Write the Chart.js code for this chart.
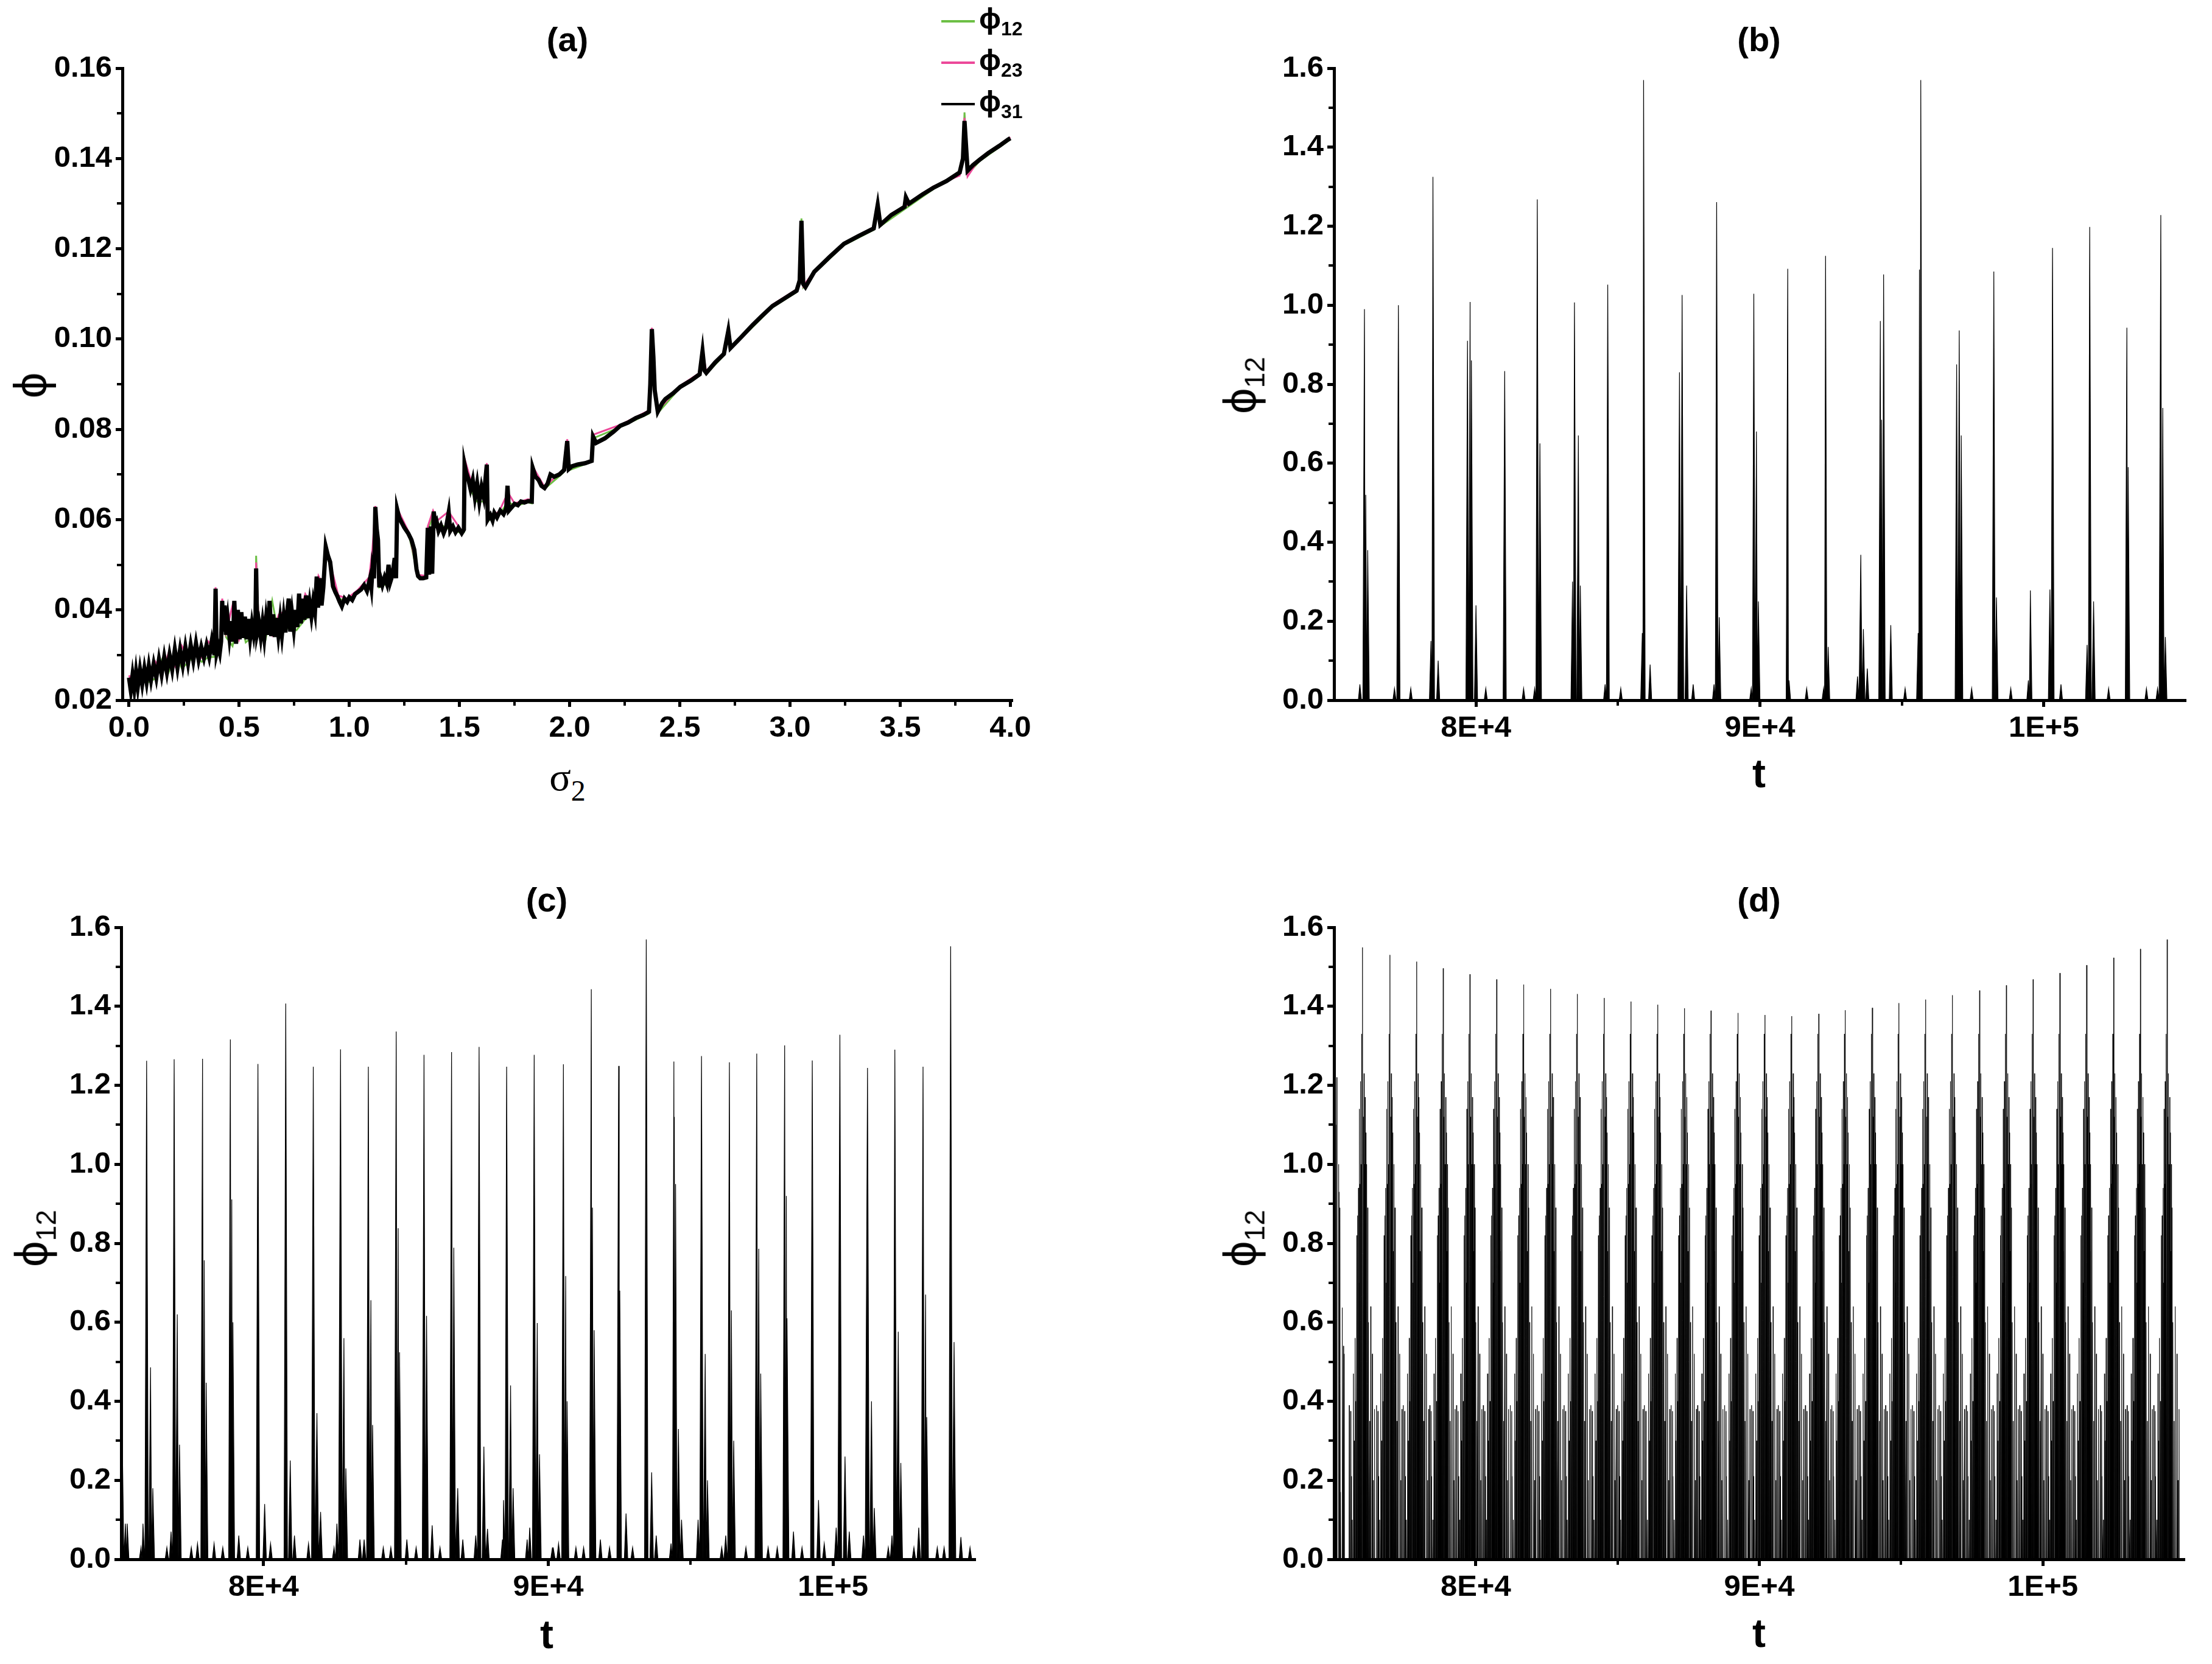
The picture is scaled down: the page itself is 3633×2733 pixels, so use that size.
<!DOCTYPE html>
<html>
<head>
<meta charset="utf-8">
<script src="https://cdn.jsdelivr.net/npm/chart.js@4.4.1/dist/chart.umd.min.js"></script>
<style>
  html, body { margin: 0; padding: 0; background: #fff; }
  body { width: 3633px; height: 2733px; position: relative; overflow: hidden; font-family: "Liberation Sans", Arial, sans-serif; color: #000; }
  canvas { position: absolute; }
  .lbl { position: absolute; transform: translate(-50%, -50%); white-space: nowrap; line-height: 1; }
  .title { font-weight: bold; font-size: 56px; }
  .tlab { font-weight: bold; font-size: 66px; }
  .sig { font-family: "Liberation Serif", "Times New Roman", serif; font-size: 66px; }
  .sig sub { font-size: 48px; vertical-align: -0.35em; }
  .phi { font-size: 76px; transform: translate(-50%, -50%) rotate(-90deg); }
  .phi sub { font-size: 46px; vertical-align: -0.3em; }
  .leg { position: absolute; left: 1546px; width: 1px; height: 1px; }
  .leg i { position: absolute; left: 0; top: -2px; width: 55px; height: 4px; }
  .leg span { position: absolute; left: 62px; top: 0; transform: translateY(-50%); font-size: 48px; font-weight: bold; white-space: nowrap; line-height: 1; }
  .leg sub { font-size: 32px; vertical-align: -0.35em; }
</style>
</head>
<body>

<canvas id="ca" width="1702" height="1168" style="left:1px;top:62px"></canvas>
<canvas id="cb" width="1639" height="1168" style="left:1991px;top:62px"></canvas>
<canvas id="cc" width="1641" height="1168" style="left:1px;top:1473px"></canvas>
<canvas id="cd" width="1637" height="1168" style="left:1991px;top:1473px"></canvas>

<div class="lbl title" style="left:932px;top:65px">(a)</div>
<div class="lbl title" style="left:2889px;top:65px">(b)</div>
<div class="lbl title" style="left:898px;top:1478px">(c)</div>
<div class="lbl title" style="left:2889px;top:1478px">(d)</div>

<div class="lbl sig" style="left:932px;top:1283px">σ<sub>2</sub></div>
<div class="lbl tlab" style="left:2889px;top:1270px">t</div>
<div class="lbl tlab" style="left:898px;top:2684px">t</div>
<div class="lbl tlab" style="left:2889px;top:2682px">t</div>

<div class="lbl phi" style="left:50px;top:633px">ϕ</div>
<div class="lbl phi" style="left:2041px;top:633px">ϕ<sub>12</sub></div>
<div class="lbl phi" style="left:56px;top:2034px">ϕ<sub>12</sub></div>
<div class="lbl phi" style="left:2041px;top:2034px">ϕ<sub>12</sub></div>

<div class="leg" style="top:35px"><i style="background:#6cbf45"></i><span>ϕ<sub>12</sub></span></div>
<div class="leg" style="top:103px"><i style="background:#ec4899"></i><span>ϕ<sub>23</sub></span></div>
<div class="leg" style="top:171px"><i style="background:#000"></i><span>ϕ<sub>31</sub></span></div>

<script>
// ---------- panel (a): phi vs sigma2 ----------
const aSigma = [
  0.000, 0.008, 0.016, 0.024, 0.032, 0.040, 0.050, 0.060, 0.070, 0.080,
  0.090, 0.100, 0.112, 0.124, 0.136, 0.148, 0.160, 0.172, 0.184, 0.196,
  0.208, 0.220, 0.232, 0.244, 0.256, 0.268, 0.280, 0.292, 0.304, 0.316,
  0.328, 0.340, 0.352, 0.364, 0.376, 0.388, 0.393, 0.398, 0.405, 0.412,
  0.418, 0.423, 0.428, 0.434, 0.440, 0.448, 0.456, 0.464, 0.472, 0.478,
  0.486, 0.494, 0.502, 0.510, 0.518, 0.526, 0.534, 0.542, 0.550, 0.558,
  0.566, 0.574, 0.577, 0.582, 0.590, 0.598, 0.606, 0.614, 0.622, 0.630,
  0.638, 0.646, 0.654, 0.662, 0.670, 0.678, 0.686, 0.694, 0.702, 0.710,
  0.718, 0.725, 0.732, 0.740, 0.748, 0.756, 0.764, 0.772, 0.780, 0.788,
  0.796, 0.804, 0.812, 0.820, 0.828, 0.836, 0.844, 0.852, 0.858, 0.866,
  0.874, 0.882, 0.893, 0.903, 0.913, 0.926, 0.936, 0.946, 0.956, 0.966,
  0.978, 0.990, 1.000, 1.013, 1.026, 1.040, 1.053, 1.067, 1.080, 1.094,
  1.100, 1.105, 1.112, 1.118, 1.124, 1.130, 1.136, 1.142, 1.150, 1.160,
  1.170, 1.178, 1.186, 1.196, 1.206, 1.212, 1.217, 1.226, 1.235, 1.250,
  1.268, 1.282, 1.295, 1.305, 1.312, 1.322, 1.335, 1.349, 1.356, 1.362,
  1.370, 1.376, 1.383, 1.390, 1.396, 1.405, 1.416, 1.428, 1.440, 1.451,
  1.458, 1.470, 1.482, 1.495, 1.510, 1.520, 1.523, 1.530, 1.540, 1.550,
  1.560, 1.570, 1.580, 1.590, 1.600, 1.610, 1.618, 1.624, 1.628, 1.640,
  1.650, 1.658, 1.670, 1.685, 1.700, 1.712, 1.718, 1.724, 1.738, 1.750,
  1.765, 1.779, 1.795, 1.812, 1.828, 1.832, 1.845, 1.859, 1.872, 1.886,
  1.900, 1.913, 1.930, 1.953, 1.975, 1.989, 1.996, 2.010, 2.036, 2.070,
  2.100, 2.106, 2.120, 2.160, 2.200, 2.230, 2.265, 2.300, 2.335, 2.360,
  2.366, 2.373, 2.380, 2.386, 2.400, 2.420, 2.434, 2.470, 2.502, 2.550,
  2.590, 2.603, 2.612, 2.620, 2.660, 2.700, 2.720, 2.730, 2.780, 2.830,
  2.870, 2.920, 2.975, 3.030, 3.044, 3.052, 3.060, 3.070, 3.110, 3.180,
  3.245, 3.310, 3.380, 3.398, 3.410, 3.460, 3.520, 3.526, 3.540, 3.600,
  3.650, 3.710, 3.770, 3.785, 3.792, 3.800, 3.806, 3.830, 3.860, 3.900,
  3.950, 3.990, 4.000
];
const aPhi31 = [
  0.0250, 0.0222, 0.0255, 0.0225, 0.0262, 0.0230, 0.0268, 0.0236, 0.0270, 0.0240,
  0.0276, 0.0245, 0.0280, 0.0250, 0.0290, 0.0257, 0.0296, 0.0262, 0.0300, 0.0268,
  0.0312, 0.0272, 0.0312, 0.0278, 0.0318, 0.0282, 0.0322, 0.0288, 0.0326, 0.0290,
  0.0318, 0.0294, 0.0322, 0.0296, 0.0332, 0.0300, 0.0447, 0.0305, 0.0320, 0.0305,
  0.0330, 0.0420, 0.0352, 0.0410, 0.0345, 0.0380, 0.0340, 0.0375, 0.0330, 0.0420,
  0.0325, 0.0400, 0.0335, 0.0395, 0.0338, 0.0385, 0.0335, 0.0380, 0.0338, 0.0370,
  0.0345, 0.0375, 0.0492, 0.0350, 0.0370, 0.0340, 0.0372, 0.0338, 0.0380, 0.0345,
  0.0420, 0.0342, 0.0390, 0.0340, 0.0382, 0.0345, 0.0380, 0.0345, 0.0385, 0.0350,
  0.0395, 0.0425, 0.0352, 0.0392, 0.0358, 0.0400, 0.0362, 0.0436, 0.0370, 0.0425,
  0.0378, 0.0432, 0.0382, 0.0415, 0.0386, 0.0418, 0.0395, 0.0474, 0.0405, 0.0470,
  0.0410, 0.0450, 0.0540, 0.0520, 0.0506, 0.0452, 0.0440, 0.0430, 0.0418, 0.0408,
  0.0425, 0.0418, 0.0428, 0.0422, 0.0435, 0.0440, 0.0445, 0.0455, 0.0442, 0.0470,
  0.0450, 0.0490, 0.0470, 0.0628, 0.0580, 0.0555, 0.0450, 0.0470, 0.0455, 0.0472,
  0.0458, 0.0500, 0.0462, 0.0478, 0.0515, 0.0470, 0.0623, 0.0605, 0.0596, 0.0582,
  0.0569, 0.0555, 0.0533, 0.0490, 0.0475, 0.0470, 0.0470, 0.0472, 0.0582, 0.0478,
  0.0585, 0.0480, 0.0618, 0.0590, 0.0596, 0.0575, 0.0587, 0.0570, 0.0585, 0.0616,
  0.0575, 0.0585, 0.0572, 0.0582, 0.0570, 0.0578, 0.0722, 0.0705, 0.0690, 0.0668,
  0.0688, 0.0650, 0.0680, 0.0640, 0.0672, 0.0650, 0.0690, 0.0722, 0.0600, 0.0610,
  0.0598, 0.0615, 0.0605, 0.0620, 0.0612, 0.0625, 0.0675, 0.0620, 0.0628, 0.0635,
  0.0632, 0.0640, 0.0638, 0.0641, 0.0640, 0.0715, 0.0695, 0.0688, 0.0675, 0.0670,
  0.0680, 0.0700, 0.0695, 0.0700, 0.0710, 0.0774, 0.0712, 0.0718, 0.0722, 0.0725,
  0.0730, 0.0784, 0.0770, 0.0780, 0.0795, 0.0808, 0.0815, 0.0825, 0.0832, 0.0839,
  0.0900, 0.1022, 0.0960, 0.0887, 0.0839, 0.0858, 0.0867, 0.0880, 0.0894, 0.0908,
  0.0922, 0.0973, 0.0930, 0.0925, 0.0948, 0.0967, 0.1018, 0.0980, 0.1005, 0.1031,
  0.1050, 0.1073, 0.1090, 0.1107, 0.1130, 0.1262, 0.1122, 0.1115, 0.1149, 0.1182,
  0.1211, 0.1228, 0.1245, 0.1297, 0.1253, 0.1275, 0.1293, 0.1314, 0.1300, 0.1320,
  0.1335, 0.1350, 0.1369, 0.1400, 0.1483, 0.1420, 0.1373, 0.1385, 0.1397, 0.1412,
  0.1428, 0.1442, 0.1445
];
const aSigmaGP = [
  0, 0.02, 0.05, 0.08, 0.12, 0.15, 0.18, 0.21, 0.24, 0.27,
  0.30, 0.33, 0.36, 0.388, 0.393, 0.40, 0.42, 0.423, 0.44, 0.47,
  0.50, 0.53, 0.56, 0.574, 0.577, 0.59, 0.62, 0.65, 0.68, 0.72,
  0.76, 0.80, 0.84, 0.86, 0.882, 0.893, 0.92, 0.95, 0.99, 1.04,
  1.09, 1.105, 1.118, 1.13, 1.136, 1.17, 1.21, 1.217, 1.27, 1.30,
  1.31, 1.35, 1.356, 1.38, 1.40, 1.45, 1.51, 1.520, 1.523, 1.55,
  1.58, 1.61, 1.624, 1.628, 1.68, 1.72, 1.75, 1.81, 1.828, 1.832,
  1.886, 1.95, 1.975, 1.989, 2.0, 2.10, 2.106, 2.23, 2.36, 2.373,
  2.386, 2.40, 2.50, 2.590, 2.603, 2.62, 2.700, 2.72, 2.73, 2.92,
  3.03, 3.044, 3.052, 3.06, 3.11, 3.245, 3.38, 3.398, 3.41, 3.65,
  3.77, 3.785, 3.792, 3.806, 3.86, 4.0
];
const aPhi12 = [
  0.0228, 0.0222, 0.0262, 0.0238, 0.0248, 0.0290, 0.0262, 0.0302, 0.0270, 0.0285,
  0.0300, 0.0285, 0.0295, 0.0296, 0.0440, 0.0305, 0.0330, 0.0415, 0.0340, 0.0320,
  0.0390, 0.0328, 0.0340, 0.0345, 0.0520, 0.0345, 0.0335, 0.0420, 0.0340, 0.0360,
  0.0355, 0.0380, 0.0390, 0.0440, 0.0445, 0.0535, 0.0482, 0.0425, 0.0420, 0.0440,
  0.0455, 0.0470, 0.0620, 0.0550, 0.0450, 0.0458, 0.0480, 0.0620, 0.0568, 0.0500,
  0.0472, 0.0470, 0.0575, 0.0610, 0.0592, 0.0580, 0.0570, 0.0572, 0.0715, 0.0665,
  0.0640, 0.0640, 0.0700, 0.0597, 0.0610, 0.0640, 0.0630, 0.0638, 0.0636, 0.0712,
  0.0668, 0.0695, 0.0706, 0.0770, 0.0710, 0.0728, 0.0780, 0.0805, 0.0835, 0.1010,
  0.0885, 0.0836, 0.0892, 0.0919, 0.0965, 0.0922, 0.0964, 0.1010, 0.0978, 0.1070,
  0.1104, 0.1126, 0.1267, 0.1115, 0.1146, 0.1208, 0.1242, 0.1290, 0.1250, 0.1332,
  0.1366, 0.1396, 0.1502, 0.1365, 0.1394, 0.1442
];
const aPhi23 = [
  0.0255, 0.0235, 0.0270, 0.0245, 0.0285, 0.0260, 0.0305, 0.0275, 0.0320, 0.0290,
  0.0320, 0.0295, 0.0330, 0.0312, 0.0450, 0.0310, 0.0335, 0.0425, 0.0350, 0.0410,
  0.0335, 0.0380, 0.0350, 0.0375, 0.0505, 0.0355, 0.0390, 0.0345, 0.0390, 0.0400,
  0.0365, 0.0435, 0.0400, 0.0475, 0.0455, 0.0545, 0.0490, 0.0432, 0.0425, 0.0445,
  0.0472, 0.0535, 0.0630, 0.0560, 0.0455, 0.0465, 0.0510, 0.0625, 0.0572, 0.0505,
  0.0478, 0.0475, 0.0585, 0.0620, 0.0598, 0.0618, 0.0575, 0.0580, 0.0735, 0.0690,
  0.0675, 0.0660, 0.0725, 0.0602, 0.0618, 0.0660, 0.0636, 0.0645, 0.0644, 0.0718,
  0.0672, 0.0702, 0.0712, 0.0778, 0.0715, 0.0732, 0.0788, 0.0810, 0.0842, 0.1025,
  0.0890, 0.0842, 0.0896, 0.0925, 0.0975, 0.0928, 0.0970, 0.1020, 0.0982, 0.1076,
  0.1110, 0.1132, 0.1255, 0.1118, 0.1150, 0.1213, 0.1248, 0.1295, 0.1255, 0.1338,
  0.1362, 0.1402, 0.1490, 0.1360, 0.1400, 0.1447
];
const aXTicks = [0, 0.5, 1.0, 1.5, 2.0, 2.5, 3.0, 3.5, 4.0];
const aYTicks = [0.02, 0.04, 0.06, 0.08, 0.10, 0.12, 0.14, 0.16];

// ---------- panel (b): phi12 vs t ----------
const bPeakT = [76072, 77267, 78484, 79793, 81011, 82159, 83468, 84640, 85903, 87259, 88476, 89785,
                90980, 92312, 93553, 94356, 95665, 97020, 98238, 99525, 100305, 101615, 102924, 104119];
const bPeakV = [0.990, 1.000, 1.325, 1.008, 0.833, 1.268, 1.007, 1.052, 1.570, 1.026, 1.261, 1.029,
                1.092, 1.125, 0.368, 1.078, 1.570, 0.936, 1.085, 0.278, 1.145, 1.198, 0.943, 1.228];
const bSubT = [75911, 76118, 76187, 77129, 77703, 78415, 78668, 79701, 79839, 80000, 80345, 81677,
               82067, 82251, 83400, 83606, 83675, 84548, 85099, 85857, 86133, 87167, 87419, 87649,
               88384, 88568, 89693, 89877, 89946, 91026, 91646, 92243, 92404, 93437, 93644, 93782,
               94241, 94287, 94609, 95114, 95573, 95619, 96929, 97090, 97457, 98330, 98835, 99455,
               100214, 100603, 101523, 101752, 102281, 102970, 103613, 104004, 104188, 104280];
const bSubV = [0.04, 0.52, 0.38, 0.03, 0.03, 0.15, 0.10, 0.91, 0.86, 0.24, 0.03, 0.03,
               0.03, 0.65, 0.30, 0.67, 0.29, 0.04, 0.03, 0.17, 0.09, 0.83, 0.29, 0.04,
               0.04, 0.21, 0.03, 0.68, 0.25, 0.05, 0.03, 0.03, 0.135, 0.06, 0.18, 0.08,
               0.96, 0.71, 0.19, 0.03, 0.17, 1.09, 0.85, 0.67, 0.03, 0.26, 0.03, 0.05,
               0.28, 0.04, 0.14, 0.25, 0.03, 0.59, 0.03, 0.03, 0.74, 0.16];

// ---------- panel (c): phi12 vs t ----------
const cPeakT = [75894, 76861, 77858, 78835, 79803, 80780, 81747, 82704, 83681, 84659, 85636, 86603,
                87570, 88538, 89505, 90531, 91511, 92471, 93441, 94411, 95381, 96361, 97321, 98301,
                99271, 100241, 101211, 102171, 103161, 104131];
const cPeakV = [1.262, 1.266, 1.267, 1.316, 1.254, 1.407, 1.247, 1.291, 1.247, 1.336, 1.277, 1.284,
                1.297, 1.247, 1.277, 1.253, 1.443, 1.249, 1.569, 1.260, 1.274, 1.258, 1.280, 1.301,
                1.263, 1.328, 1.244, 1.290, 1.247, 1.552];
const cSubT = [75040, 75150, 76032, 76111, 76970, 77049, 77917, 77986, 78885, 78924, 80039, 80938,
               81875, 82004, 82823, 82892, 83770, 83830, 84728, 84777, 85725, 85922, 86682, 86820,
               87738, 87866, 88676, 88765, 89613, 89692, 90611, 90661, 91551, 91611, 92511, 92731,
               93631, 93791, 94431, 94471, 94571, 94681, 95511, 95591, 96431, 96511, 97391, 97461,
               98361, 98391, 99491, 99691, 100421, 100571, 101351, 101451, 102291, 102381, 103251, 103291,
               104251, 104491];
const cSubV = [0.30, 0.09, 0.486, 0.18, 0.62, 0.29, 0.757, 0.447, 0.911, 0.60, 0.14, 0.25,
               0.37, 0.12, 0.56, 0.23, 0.656, 0.34, 0.838, 0.524, 0.616, 0.086, 0.789, 0.18,
               0.285, 0.077, 0.44, 0.18, 0.598, 0.266, 0.717, 0.40, 0.89, 0.58, 0.68, 0.116,
               0.22, 0.06, 1.12, 0.95, 0.33, 0.10, 0.52, 0.20, 0.63, 0.30, 0.786, 0.47,
               0.92, 0.61, 0.15, 0.04, 0.26, 0.07, 0.40, 0.13, 0.576, 0.244, 0.67, 0.36,
               0.55, 0.056];
const cSmallT = [75213, 75697, 75766, 76605, 76753, 77463, 77681, 78263, 78569, 79131, 79447, 80247,
                 81086, 81579, 82477, 82576, 83385, 83533, 84205, 84471, 85034, 85359, 86198, 86998,
                 87452, 88390, 88429, 89258, 89347, 90146, 90181, 90361, 90971, 91241, 91831, 92151,
                 92961, 94311, 95261, 96091, 96231, 96941, 97721, 98041, 98611, 98911, 100111, 101071,
                 101941, 102071, 102841, 103011, 103661, 103901, 104811];
const cSmallV = [0.09, 0.03, 0.09, 0.03, 0.07, 0.03, 0.04, 0.04, 0.03, 0.06, 0.03, 0.04,
                 0.06, 0.04, 0.03, 0.09, 0.05, 0.05, 0.03, 0.03, 0.05, 0.03, 0.03, 0.05,
                 0.06, 0.05, 0.15, 0.05, 0.08, 0.03, 0.03, 0.04, 0.03, 0.03, 0.05, 0.03,
                 0.03, 0.04, 0.10, 0.03, 0.06, 0.03, 0.03, 0.03, 0.07, 0.03, 0.08, 0.06,
                 0.03, 0.06, 0.03, 0.08, 0.03, 0.03, 0.03];

// ---------- panel (d): phi12 vs t ----------
const dPeakT = [76009, 76972, 77916, 78850, 79793, 80737, 81691, 82644, 83588, 84532, 85475, 86419,
                87362, 88296, 89250, 90200, 91144, 92097, 93031, 93985, 94928, 95872, 96816, 97769,
                98713, 99656, 100600, 101544, 102497, 103441, 104384];
const dPeakV = [1.549, 1.530, 1.513, 1.496, 1.481, 1.468, 1.455, 1.444, 1.431, 1.421, 1.412, 1.404,
                1.395, 1.389, 1.383, 1.378, 1.375, 1.381, 1.390, 1.396, 1.408, 1.417, 1.428, 1.440,
                1.453, 1.468, 1.484, 1.504, 1.523, 1.545, 1.569];
const dCombOffset = [-472, -423, -403, -365, -324, -295, -265, -236, -206, -177, -147, -128, -108, -88, -69, -49, -29,
                     29, 49, 69, 88, 108, 128, 147, 177, 206, 245, 285, 344, 380, 420];
const dCombV = [0.39, 0.375, 0.21, 0.10, 0.47, 0.30, 0.56, 0.40, 0.82, 0.87, 0.94, 0.70, 1.14, 0.95, 1.21, 1.00, 1.33,
                1.12, 1.23, 1.00, 1.17, 1.08, 0.78, 1.00, 0.89, 0.60, 0.35, 0.64, 0.52, 0.20, 0.38];
const dEdgeT = [75030, 75060, 75095, 75164, 75184, 75213, 75233, 75291, 75331, 75360];
const dEdgeV = [0.95, 1.10, 1.22, 1.00, 0.93, 0.89, 0.17, 0.637, 0.54, 0.52];

const tTicks = [80000, 90000, 100000];
const tLabels = ['8E+4', '9E+4', '1E+5'];
const phiTicks = [0, 0.2, 0.4, 0.6, 0.8, 1.0, 1.2, 1.4, 1.6];

// ---------- helpers ----------
const GREEN = '#6cbf45';
const PINK = '#ec4899';
const tickFont = { family: '"Liberation Sans Narrow", "Liberation Sans", Arial, sans-serif', size: 49, weight: 'bold' };

function pairs(xs, ys) {
  return xs.map((x, i) => ({ x, y: ys[i] }));
}

// each spike becomes a narrow triangle standing on zero
function spikeSeries(ts, vs, w) {
  const s = ts.map((t, i) => [t, vs[i]]).sort((p, q) => p[0] - q[0]);
  const out = [];
  s.forEach(([t, v], i) => {
    const prev = s[i - 1], next = s[i + 1];
    const a = prev ? Math.max(t - w, (prev[0] + t) / 2) : t - w;
    const b = next ? Math.min(t + w, (t + next[0]) / 2) : t + w;
    out.push({ x: a, y: 0 }, { x: t, y: v }, { x: b, y: 0 });
  });
  return out;
}

function spikeSet(data, bw) {
  return { data, borderColor: '#000', backgroundColor: '#000', borderWidth: bw, fill: 'origin', pointRadius: 0, tension: 0 };
}

function axis(min, max, ticks, fmt, size, isX) {
  return {
    type: 'linear', min, max,
    border: { display: true, color: '#000', width: 5 },
    grid: { display: true, drawOnChartArea: false, drawTicks: true, tickLength: 11, tickWidth: 5, tickColor: '#000' },
    ticks: { font: tickFont, color: '#000', padding: 6, autoSkip: false, maxRotation: 0, callback: fmt },
    afterBuildTicks(scale) { scale.ticks = ticks.map(v => ({ value: v })); },
    afterFit(scale) { if (isX) scale.height = size; else scale.width = size; }
  };
}

const minorTicks = {
  id: 'minorTicks',
  afterDraw(chart, args, opts) {
    const { ctx, chartArea, scales } = chart;
    ctx.save();
    ctx.strokeStyle = '#000';
    ctx.lineWidth = 4;
    (opts.x || []).forEach(v => {
      const px = Math.round(scales.x.getPixelForValue(v));
      ctx.beginPath(); ctx.moveTo(px, chartArea.bottom); ctx.lineTo(px, chartArea.bottom + 9); ctx.stroke();
    });
    (opts.y || []).forEach(v => {
      const py = Math.round(scales.y.getPixelForValue(v));
      ctx.beginPath(); ctx.moveTo(chartArea.left, py); ctx.lineTo(chartArea.left - 9, py); ctx.stroke();
    });
    ctx.restore();
  }
};

function panel(id, datasets, xScale, yScale, minor) {
  return new Chart(document.getElementById(id), {
    type: 'line',
    data: { datasets },
    options: {
      responsive: false,
      animation: false,
      devicePixelRatio: 1,
      layout: { padding: { top: 50, right: 40, left: 0, bottom: 0 }, autoPadding: false },
      scales: { x: xScale, y: yScale },
      plugins: { legend: { display: false }, tooltip: { enabled: false }, minorTicks: minor }
    },
    plugins: [minorTicks]
  });
}

const tFmt = v => tLabels[tTicks.indexOf(v)];
const phiFmt = v => v.toFixed(1);
const tMinor = [85000, 95000];
const phiMinor = [0.1, 0.3, 0.5, 0.7, 0.9, 1.1, 1.3, 1.5];

// (a) black drawn on top of the two coloured curves
panel('ca', [
  { data: pairs(aSigma, aPhi31), borderColor: '#000', borderWidth: 7, pointRadius: 0, tension: 0, fill: false },
  { data: pairs(aSigmaGP, aPhi23), borderColor: PINK, borderWidth: 3, pointRadius: 0, tension: 0, fill: false },
  { data: pairs(aSigmaGP, aPhi12), borderColor: GREEN, borderWidth: 3, pointRadius: 0, tension: 0, fill: false }
], axis(-0.03, 4.01, aXTicks, v => v.toFixed(1), 80, true),
   axis(0.02, 0.16, aYTicks, v => v.toFixed(2), 200, false),
   { x: [0.25, 0.75, 1.25, 1.75, 2.25, 2.75, 3.25, 3.75], y: [0.03, 0.05, 0.07, 0.09, 0.11, 0.13, 0.15] });

// (b)
panel('cb', [spikeSet(spikeSeries(bPeakT.concat(bSubT), bPeakV.concat(bSubV), 55), 1.2)],
  axis(75000, 105000, tTicks, tFmt, 80, true),
  axis(0, 1.6, phiTicks, phiFmt, 200, false),
  { x: tMinor, y: phiMinor });

// (c)
panel('cc', [spikeSet(spikeSeries(cPeakT.concat(cSubT, cSmallT), cPeakV.concat(cSubV, cSmallV), 60), 1.2)],
  axis(75000, 105000, tTicks, tFmt, 80, true),
  axis(0, 1.6, phiTicks, phiFmt, 198, false),
  { x: tMinor, y: phiMinor });

// (d)
const dT = [], dV = [];
dPeakT.forEach((t, i) => {
  dT.push(t); dV.push(dPeakV[i]);
  dCombOffset.forEach((o, k) => { dT.push(t + o); dV.push(dCombV[k]); });
});
panel('cd', [spikeSet(spikeSeries(dT.concat(dEdgeT), dV.concat(dEdgeV), 10), 0.8)],
  axis(75000, 105000, tTicks, tFmt, 80, true),
  axis(0, 1.6, phiTicks, phiFmt, 200, false),
  { x: tMinor, y: phiMinor });
</script>
</body>
</html>
